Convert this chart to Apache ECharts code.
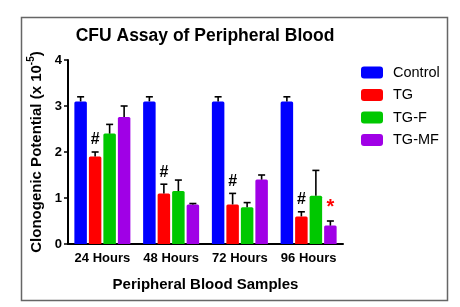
<!DOCTYPE html>
<html>
<head>
<meta charset="utf-8">
<script src="https://cdn.jsdelivr.net/npm/echarts@6/dist/echarts.min.js"></script>
<style>html,body{margin:0;padding:0;background:#fff;}</style>
</head>
<body>
<div id="main" style="width:460px;height:307px;"></div>
<script>
// data
var categories = ['24 Hours', '48 Hours', '72 Hours', '96 Hours'];
var seriesNames = ['Control', 'TG', 'TG-F', 'TG-MF'];
var colors = ['#0000ff', '#ff0000', '#00c800', '#a000e6'];
var control = [3.1, 3.1, 3.1, 3.1];
var tg = [1.9, 1.1, 0.86, 0.6];
var tgF = [2.4, 1.15, 0.8, 1.05];
var tgMF = [2.76, 0.86, 1.4, 0.4];
var controlErr = [0.1, 0.1, 0.1, 0.1];
var tgErr = [0.1, 0.2, 0.24, 0.1];
var tgFErr = [0.2, 0.24, 0.1, 0.55];
var tgMFErr = [0.24, 0.02, 0.1, 0.1];
var marks = [[], ['#', '#', '#', '#'], [], ['', '', '', '*']];
var yTicks = [0, 1, 2, 3, 4];

var values = [control, tg, tgF, tgMF];
var errs = [controlErr, tgErr, tgFErr, tgMFErr];
var font = 'Arial, "Liberation Sans", sans-serif';
var barW = 12.5, barStep = 14.5;

var myChart = echarts.init(document.getElementById('main'));

function errRender(k) {
    return function (params, api) {
        var i = api.value(0), v = api.value(1), e = api.value(2);
        var base = api.coord([i, v]);
        var top = api.coord([i, v + e]);
        var cx = base[0] + (k - 1.5) * barStep;
        var kids = [
            { type: 'line', shape: { x1: cx, y1: base[1], x2: cx, y2: top[1] }, style: { stroke: '#000', lineWidth: 1.6 } },
            { type: 'line', shape: { x1: cx - 3.5, y1: top[1], x2: cx + 3.5, y2: top[1] }, style: { stroke: '#000', lineWidth: 1.6 } }
        ];
        var m = (marks[k] || [])[i];
        if (m) {
            kids.push({
                type: 'text',
                style: {
                    text: m, x: cx, y: top[1] - 4, align: 'center', verticalAlign: 'bottom',
                    fill: m == '*' ? '#ff0000' : '#000',
                    font: m == '*' ? 'bold 20px ' + font : 'bold 16px ' + font
                }
            });
        }
        return { type: 'group', children: kids };
    };
}

var series = [];
seriesNames.forEach(function (name, k) {
    series.push({
        name: name,
        type: 'bar',
        barWidth: barW,
        barGap: '16%',
        itemStyle: { color: colors[k], borderRadius: [1.5, 1.5, 0, 0] },
        data: values[k],
        z: 2
    });
});
seriesNames.forEach(function (name, k) {
    series.push({
        name: 'err' + k,
        type: 'custom',
        renderItem: errRender(k),
        data: values[k].map(function (v, i) { return [i, v, errs[k][i]]; }),
        z: 5,
        silent: true
    });
});

var option = {
    animation: false,
    backgroundColor: '#fff',
    title: {
        text: 'CFU Assay of Peripheral Blood',
        left: 200, top: 22, textAlign: 'center',
        textStyle: { fontFamily: font, fontSize: 17.5, fontWeight: 'bold', color: '#000' }
    },
    legend: {
        data: seriesNames,
        orient: 'vertical',
        left: 361, top: 65,
        padding: 0,
        itemWidth: 22, itemHeight: 12, itemGap: 7.5,
        icon: 'roundRect',
        textStyle: { fontFamily: font, fontSize: 14.5, color: '#000', padding: [0, 0, 0, 5] }
    },
    graphic: [{
        type: 'rect', left: 19, top: 15,
        shape: { width: 426, height: 283 },
        style: { fill: 'none', stroke: '#666', lineWidth: 1.5 }
    }],
    grid: { left: 68, right: 117, top: 60, bottom: 63 },
    xAxis: {
        type: 'category',
        data: categories,
        name: 'Peripheral Blood Samples',
        nameLocation: 'middle',
        nameGap: 33,
        nameTextStyle: { fontFamily: font, fontSize: 15, fontWeight: 'bold', color: '#000' },
        axisLine: { lineStyle: { color: '#000', width: 2 } },
        axisTick: { alignWithLabel: true, length: 4, lineStyle: { color: '#000', width: 1.5 } },
        axisLabel: { interval: 0, fontFamily: font, fontSize: 13, fontWeight: 'bold', color: '#000', margin: 8 }
    },
    yAxis: {
        type: 'value',
        min: yTicks[0], max: yTicks[yTicks.length - 1], interval: 1,
        name: '{a|Clonogenic Potential (x 10}{s|-5}{a|)}',
        nameLocation: 'middle',
        nameRotate: 90,
        nameGap: 24,
        nameTextStyle: {
            rich: {
                a: { fontFamily: font, fontSize: 15, fontWeight: 'bold', color: '#000', lineHeight: 18, verticalAlign: 'bottom' },
                s: { fontFamily: font, fontSize: 10, fontWeight: 'bold', color: '#000', lineHeight: 18, verticalAlign: 'top' }
            }
        },
        splitLine: { show: false },
        axisLine: { show: true, lineStyle: { color: '#000', width: 2 } },
        axisTick: { show: true, length: 4, lineStyle: { color: '#000', width: 1.5 } },
        axisLabel: { fontFamily: font, fontSize: 13, fontWeight: 'bold', color: '#000', margin: 6 }
    },
    series: series
};
myChart.setOption(option);
</script>
</body>
</html>
